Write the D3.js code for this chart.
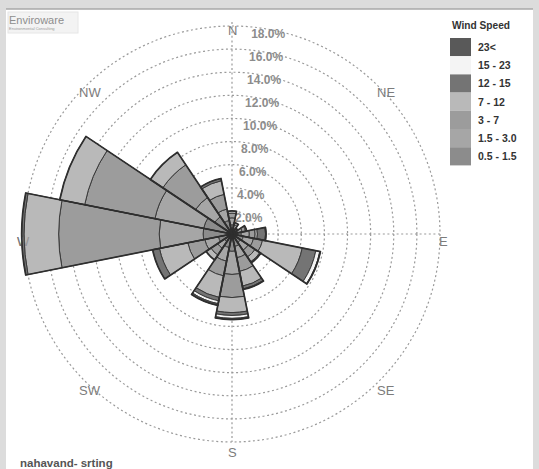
<!DOCTYPE html>
<html><head><meta charset="utf-8">
<script src="https://cdn.jsdelivr.net/npm/d3@7/dist/d3.min.js"></script>
<style>
html,body{margin:0;padding:0;background:#dcdcdc;}
svg{display:block;}
</style></head>
<body>
<svg id="chart" width="539" height="469"></svg>
<script>
// ---- data ----
const directions = ["N","NNE","NE","ENE","E","ESE","SE","SSE","S","SSW","SW","WSW","W","WNW","NW","NNW"];
const speedClasses = ["0.5 - 1.5","1.5 - 3.0","3 - 7","7 - 12","12 - 15","15 - 23","23<"];
const s05_15 = [0.8,0.5,0.3,0.5,0.8,1.0,0.9,1.1,1.5,1.2,0.8,1.2,2.5,2.5,1.8,1.2];
const s15_30 = [0.6,0.3,0.2,0.4,0.7,0.9,0.8,1.0,2.0,1.2,0.7,1.2,3.8,4.3,2.0,1.0];
const s3_7   = [0.4,0.2,0.1,0.3,0.5,0.8,0.7,1.2,2.0,1.3,0.7,1.5,8.7,6.2,3.4,1.3];
const s7_12  = [0.2,0,0,0.1,0.2,3.5,0.5,1.3,1.3,1.9,0.5,2.5,3.0,2.2,1.3,1.2];
const s12_15 = [0,0,0,0,0.7,1.2,0.1,0.25,0.25,0.3,0,0.6,0.2,0,0,0.2];
const s15_23 = [0,0,0,0,0.05,0.35,0,0.05,0.25,0.25,0,0,0,0,0,0];
const s23up  = [0,0,0,0,0,0.05,0,0,0.1,0.15,0,0,0,0,0,0];
const ringTicks = [2,4,6,8,10,12,14,16,18];
const compassLabels = ["N","NE","E","SE","S","SW","W","NW"];
const chartTitle = "nahavand- srting";
const legendTitle = "Wind Speed";

// ---- styles ----
const classColors = ["#8c8c8c","#a6a6a6","#9c9c9c","#b9b9b9","#747474","#f4f4f4","#595959"];
const series = [s05_15,s15_30,s3_7,s7_12,s12_15,s15_23,s23up];

const svg = d3.select("#chart");
const W = 539, H = 469;
const cx = 232, cy = 234;

// frame
svg.append("rect").attr("x",0).attr("y",0).attr("width",W).attr("height",H).attr("fill","#dcdcdc");
svg.append("rect").attr("x",6).attr("y",9).attr("width",527).attr("height",H-9).attr("fill","#ffffff");
svg.append("line").attr("x1",6).attr("x2",533).attr("y1",9).attr("y2",9).attr("stroke","#a8a8a8").attr("stroke-width",1.5);

// logo
const logo = svg.append("g");
logo.append("rect").attr("x",8).attr("y",12).attr("width",70).attr("height",21).attr("fill","#f3f3f3").attr("stroke","#e6e6e6");
logo.append("text").attr("x",9).attr("y",24).text("Enviroware")
  .attr("font-family","'Liberation Sans',sans-serif").attr("font-size",11).attr("fill","#8e8e8e").attr("font-weight","300");
logo.append("text").attr("x",9).attr("y",30).text("Environmental Consulting")
  .attr("font-family","'Liberation Sans',sans-serif").attr("font-size",4).attr("fill","#9a9a9a");

const r = d3.scaleLinear().domain([0,18]).range([0,208]);
const g = svg.append("g").attr("transform",`translate(${cx},${cy})`);

// grid rings
g.selectAll("circle.ring").data(ringTicks).join("circle")
  .attr("class","ring").attr("r",d=>r(d)).attr("fill","none")
  .attr("stroke","#9a9a9a").attr("stroke-width",1.2).attr("stroke-dasharray","2,2.6");
// axes
g.append("line").attr("x1",0).attr("x2",0).attr("y1",-r(18)-4).attr("y2",r(18)).attr("stroke","#9a9a9a").attr("stroke-width",1.2).attr("stroke-dasharray","2,2.6");
g.append("line").attr("x1",-r(18)).attr("x2",r(18)).attr("y1",0).attr("y2",0).attr("stroke","#9a9a9a").attr("stroke-width",1.2).attr("stroke-dasharray","2,2.6");

// ring labels
const la = 5*Math.PI/180;
g.selectAll("text.rl").data(ringTicks).join("text").attr("class","rl")
  .attr("x",d=>r(d)*Math.sin(la)+1).attr("y",d=>-r(d)*Math.cos(la)+11)
  .text(d=>d.toFixed(1)+"%")
  .attr("font-family","'Liberation Sans',sans-serif").attr("font-size",12)
  .attr("fill","#8c8c8c").attr("font-weight","bold");

// compass labels
const LR = 211;
g.selectAll("text.cl").data(compassLabels).join("text").attr("class","cl")
  .attr("x",(d,i)=>{const a=i*Math.PI/4; const s=Math.sin(a); return (Math.abs(s)<0.9&&Math.abs(s)>0.1? Math.sign(s)*149 : LR*s)-4;})
  .attr("y",(d,i)=>{const a=i*Math.PI/4; const c=Math.cos(a); return -(Math.abs(c)<0.9&&Math.abs(c)>0.1? Math.sign(c)*149 : LR*c)+12;})
  .text(d=>d)
  .attr("font-family","'Liberation Sans',sans-serif").attr("font-size",13)
  .attr("fill","#7c7c7c");

// stacked bars
const step = 2*Math.PI/directions.length;
const arc = d3.arc();
const segs = [];
directions.forEach((dname,i)=>{
  let cum = 0;
  series.forEach((s,k)=>{
    const v = s[i];
    if (v>0){ segs.push({i,k,inner:cum,outer:cum+v}); }
    cum += v;
  });
});
const bars = g.append("g");
bars.selectAll("path").data(segs).join("path")
  .attr("d",d=>arc({innerRadius:r(d.inner),outerRadius:r(d.outer),startAngle:d.i*step-step/2,endAngle:d.i*step+step/2}))
  .attr("fill",d=>classColors[d.k]).attr("stroke","#3a3a3a").attr("stroke-width",1).attr("stroke-linejoin","round");
const totals = directions.map((d,i)=>d3.sum(series,s=>s[i]));
bars.selectAll("path.out").data(totals).join("path").attr("class","out")
  .attr("d",(t,i)=>arc({innerRadius:0,outerRadius:r(t),startAngle:i*step-step/2,endAngle:i*step+step/2}))
  .attr("fill","none").attr("stroke","#2e2e2e").attr("stroke-width",1.7).attr("stroke-linejoin","round");

// faint W label on top of bar
g.append("text").attr("x",-LR-4).attr("y",12).text("W")
  .attr("font-family","'Liberation Sans',sans-serif").attr("font-size",13).attr("fill","#6a6a6a").attr("opacity",0.45);

// legend
const lg = svg.append("g");
lg.append("text").attr("x",452).attr("y",29).text(legendTitle)
  .attr("font-family","'Liberation Sans',sans-serif").attr("font-weight","bold").attr("font-size",11)
  .attr("textLength",58).attr("lengthAdjust","spacingAndGlyphs").attr("fill","#333");
const legendOrder = d3.range(speedClasses.length).reverse();
const rowH = 18.2;
lg.selectAll("rect.sw").data(legendOrder).join("rect").attr("class","sw")
  .attr("x",450).attr("y",(d,j)=>38+j*rowH).attr("width",21).attr("height",rowH)
  .attr("fill",d=>classColors[d]);
lg.selectAll("text.lt").data(legendOrder).join("text").attr("class","lt")
  .attr("x",478).attr("y",(d,j)=>38+j*rowH+13).text(d=>speedClasses[d])
  .attr("font-family","'Liberation Sans',sans-serif").attr("font-weight","bold").attr("font-size",10.5).attr("fill","#333");

// title
svg.append("text").attr("x",20).attr("y",467).text(chartTitle)
  .attr("font-family","'Liberation Sans',sans-serif").attr("font-weight","bold").attr("font-size",11.5).attr("fill","#555");
</script>
</body></html>
